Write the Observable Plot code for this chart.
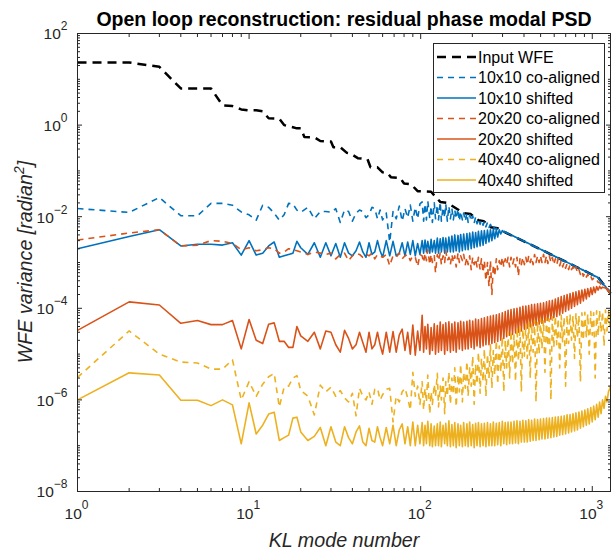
<!DOCTYPE html>
<html><head><meta charset="utf-8">
<script src="https://cdn.jsdelivr.net/npm/d3@7"></script>
<script src="https://cdn.jsdelivr.net/npm/@observablehq/plot@0.6"></script>
<style>
body{margin:0;background:#fff;}
#wrap{position:relative;width:613px;height:552px;font-family:"Liberation Sans",Arial,sans-serif;}
#legend{position:absolute;left:433px;top:43px;}
#ylab{position:absolute;left:0;top:0;}
</style></head><body><div id="wrap"></div>
<script>
// ---------- data ----------
const titleText = "Open loop reconstruction: residual phase modal PSD";
const xLabel = "KL mode number";
const yLabelMain = "WFE variance [radian";
const yLabelSup = "2";
const yLabelEnd = "]";
const xTicks = [1, 10, 100, 1000];
const xTickExp = ["0", "1", "2", "3"];
const yTicks = [1e-8, 1e-6, 1e-4, 1e-2, 1, 100];
const yTickExp = ["−8", "−6", "−4", "−2", "0", "2"];
const tickBase = "10";

const seriesNames = ["Input WFE", "10x10 co-aligned", "10x10 shifted", "20x20 co-aligned", "20x20 shifted", "40x40 co-aligned", "40x40 shifted"];
const seriesColors = ["#000000", "#0072BD", "#0072BD", "#D95319", "#D95319", "#EDB120", "#EDB120"];
const seriesDash = ["9,6", "6,5", null, "6,5", null, "6,5", null];
const seriesWidth = [2.5, 1.6, 1.6, 1.6, 1.6, 1.6, 1.6];

// Input WFE (black dashed)
const inputModes = [1,2,3,4,5,6,7,8,9,10, 11,12,13,14,15,16,17,18,19,20,
  21,24,26,30,31,34,37,39,43,49, 51,56,60,64,67,76,80,88,96,115,
  130,143,178,195,217,233,256,281,292,317, 400,500,600,700,800,900,1000,1082,1150,1218, 1277];
const inputWFE = [23.3,23.3,18.7,6.3,6.3,6.3,2.7,2.6,2.2,2.1, 2.1,2.0,1.41,1.4,1.38,1.0,0.95,0.9,0.85,0.85,
  0.55,0.54,0.45,0.44,0.33,0.33,0.25,0.24,0.19,0.18, 0.12,0.12,0.093,0.09,0.073,0.07,0.053,0.051,0.036,0.035,
  0.021,0.02,0.012,0.0115,0.0084,0.008,0.0059,0.0056,0.0051,0.0044, 0.0029,0.00193,0.00138,0.00105,0.00081,0.00066,0.00054,0.00047,0.00035,0.00027, 0.00021];

// sampled KL modes for residual curves
const modes = [
  1,2,3,4,5,6,7,8,9,10, 11,12,13,14,15,16,17,18,19,20,
  22,24,26,28,30,32,34,36,38,40, 42,44,46,48,50,52,54,56,58,60,
  63,66,69,72,75,78,81,84,87,90, 93,96,99,
  102,104,106,108,110,113,115,117,120,122,
  125,127,130,132,135,138,140,143,146,149,
  152,155,158,161,165,168,171,175,178,182,
  186,189,193,197,201,205,209,213,217,222,
  226,231,235,240,245,250,255,260,265,270,
  276,281,287,293,299,305,311,317,323,330,
  336,343,350,357,364,371,379,386,394,402,
  410,418,426,435,443,452,461,470,480,490,
  499,509,520,530,541,551,562,574,585,597,
  609,621,633,646,659,672,686,699,713,728,
  742,757,772,788,803,819,836,853,870,887,
  905,923,941,960,980,999,1019,1040,1060,1082,
  1103,1125,1148,1171,1194,1218,1242,1267,1277];

const coAligned10 = [
  0.0151,0.0124,0.0262,0.0105,0.0105,0.0195,0.0195,0.0178,0.0127,0.011,
  0.0084,0.0178,0.016,0.012,0.0084,0.011,0.0195,0.019,0.0139,0.0125,
  0.016,0.009,0.013,0.013,0.0125,0.015,0.0075,0.014,0.013,0.008,
  0.012,0.014,0.013,0.0095,0.011,0.016,0.015,0.009,0.014,0.0085,
  0.012,0.0028,0.013,0.009,0.017,0.008,0.015,0.0095,0.018,0.008,
  0.016,0.009,0.019,
  0.021,0.008,0.019,0.0085,0.022,0.009,0.017,0.0075,0.02,0.009,
  0.018,0.0085,0.021,0.008,0.016,0.0095,0.019,0.008,0.017,0.009,
  0.015,0.0085,0.014,0.009,0.015,0.008,0.013,0.0085,0.012,0.008,
  0.012,0.0075,0.011,0.008,0.0105,0.0072,0.01,0.007,0.009,0.0068,
  0.0085,0.0065,0.008,0.006,0.0075,0.0058,0.0068,0.0056,0.0062,0.0054,
  0.0056,0.0052,0.0051,0.0049,0.0048,0.0047,0.0046,0.0044,0.0042,0.0041,
  0.00401,0.00386,0.00372,0.00358,0.00346,0.00334,0.00321,0.0031,0.003,0.00289,
  0.00278,0.00269,0.0026,0.0025,0.00242,0.00233,0.00224,0.00217,0.00208,0.00201,
  0.00194,0.00187,0.0018,0.00174,0.00167,0.00162,0.00156,0.0015,0.00145,0.0014,
  0.00134,0.0013,0.00126,0.00121,0.00116,0.00112,0.00108,0.00105,0.00101,0.00097,
  0.00094,0.0009,0.00087,0.00084,0.00081,0.00078,0.00075,0.00073,0.0007,0.00068,
  0.00065,0.00063,0.00061,0.00058,0.00056,0.00054,0.00052,0.0005,0.00049,0.00047,
  0.00042,0.00038,0.00035,0.00032,0.0003,0.00027,0.00025,0.00023,0.00021];

const shifted10 = [
  0.002,0.0037,0.0052,0.0023,0.0025,0.0025,0.0024,0.0027,0.00145,0.003,
  0.00145,0.0016,0.0023,0.0028,0.0013,0.0014,0.0015,0.0016,0.0029,0.0021,
  0.0015,0.0027,0.0013,0.0027,0.0014,0.0026,0.0013,0.0027,0.0016,0.0014,
  0.0018,0.0028,0.0017,0.0013,0.0027,0.0015,0.0017,0.003,0.0018,0.0013,
  0.003,0.0014,0.0029,0.0014,0.0016,0.0027,0.0014,0.0028,0.0015,0.003,
  0.0014,0.0026,0.0015,
  0.003,0.0016,0.0031,0.0017,0.0029,0.0016,0.0032,0.0017,0.003,0.0016,
  0.0034,0.0016,0.0033,0.0017,0.0035,0.0016,0.0034,0.0017,0.0036,0.0017,
  0.0038,0.0017,0.004,0.0018,0.0039,0.0017,0.0041,0.0018,0.0042,0.0019,
  0.0043,0.0019,0.0044,0.002,0.0046,0.0021,0.0045,0.0022,0.0048,0.0023,
  0.0049,0.0024,0.005,0.0026,0.0051,0.0028,0.0052,0.003,0.0053,0.0033,
  0.0052,0.0036,0.0052,0.0042,0.005,0.0046,0.0047,0.0045,0.0043,0.0041,
  0.00401,0.00386,0.00372,0.00358,0.00346,0.00334,0.00321,0.0031,0.003,0.00289,
  0.00278,0.00269,0.0026,0.0025,0.00242,0.00233,0.00224,0.00217,0.00208,0.00201,
  0.00194,0.00187,0.0018,0.00174,0.00167,0.00162,0.00156,0.0015,0.00145,0.0014,
  0.00134,0.0013,0.00126,0.00121,0.00116,0.00112,0.00108,0.00105,0.00101,0.00097,
  0.00094,0.0009,0.00087,0.00084,0.00081,0.00078,0.00075,0.00073,0.0007,0.00068,
  0.00065,0.00063,0.00061,0.00058,0.00056,0.00054,0.00052,0.0005,0.00049,0.00047,
  0.00042,0.00038,0.00035,0.00032,0.0003,0.00027,0.00025,0.00023,0.00021];

const coAligned20 = [
  0.0031,0.0044,0.0052,0.0023,0.0024,0.003,0.0029,0.0026,0.0019,0.0021,
  0.0018,0.0019,0.0021,0.002,0.0016,0.0017,0.002,0.0019,0.0018,0.0017,
  0.0015,0.0017,0.0016,0.0015,0.0016,0.0012,0.0015,0.0016,0.0011,0.0014,
  0.0016,0.0015,0.0013,0.0015,0.0014,0.0016,0.0012,0.0015,0.0014,0.0013,
  0.0015,0.00085,0.0014,0.0013,0.0016,0.0012,0.0014,0.0015,0.0011,0.0014,
  0.0013,0.00082,0.0015,
  0.0014,0.001,0.0016,0.0011,0.0019,0.0009,0.0015,0.001,0.0014,0.0006,
  0.0015,0.0011,0.0016,0.0009,0.0014,0.001,0.0018,0.0011,0.0013,0.0009,
  0.0015,0.001,0.0014,0.0008,0.0016,0.001,0.0014,0.0011,0.0015,0.0009,
  0.0013,0.0009,0.0014,0.0007,0.0013,0.0009,0.0012,0.0008,0.0013,0.0007,
  0.0012,0.0006,0.0011,0.0004,0.001,0.0003,0.0011,0.0002,0.0009,0.0005,
  0.0012,0.0007,0.0011,0.0008,0.0013,0.0008,0.0012,0.0009,0.0013,0.0008,
  0.0013,0.0009,0.0012,0.0008,0.0013,0.0005,0.0012,0.0009,0.0013,0.0009,
  0.0013,0.0009,0.0014,0.001,0.0013,0.0009,0.0015,0.001,0.0014,0.001,
  0.0014,0.001,0.0015,0.001,0.0014,0.00095,0.0014,0.001,0.0013,0.0009,
  0.0012,0.0009,0.0012,0.00085,0.0011,0.0008,0.001,0.00075,0.00095,0.0007,
  0.0009,0.0007,0.0008,0.00065,0.0008,0.0006,0.0007,0.00055,0.00065,0.0005,
  0.0006,0.00048,0.00055,0.00045,0.0005,0.00042,0.00045,0.0004,0.00042,0.00037,
  0.00036,0.00033,0.00031,0.0003,0.00028,0.00026,0.00024,0.00022,0.00021];

const shifted20 = [
  3.3e-5,1.38e-4,1.18e-4,4.7e-5,5.4e-5,4.4e-5,4.4e-5,5.4e-5,1.3e-5,5.7e-5,
  2.0e-5,1.7e-5,4.5e-5,4.8e-5,1.9e-5,1.9e-5,1.4e-5,1.4e-5,4.0e-5,2.5e-5,
  1.9e-5,3.0e-5,1.3e-5,3.2e-5,3.0e-5,1.6e-5,1.1e-5,3.3e-5,2.2e-5,1.3e-5,
  1.6e-5,3.0e-5,1.8e-5,1.1e-5,3.0e-5,1.3e-5,1.6e-5,3.0e-5,1.6e-5,1.0e-5,
  3.0e-5,1.1e-5,3.1e-5,1.1e-5,2.6e-5,3.5e-5,1.2e-5,3.0e-5,1.0e-5,4.3e-5,
  9.5e-6,3.2e-5,1.2e-5,
  7.0e-5,1.1e-5,4.0e-5,1.3e-5,4.5e-5,1.0e-5,3.8e-5,1.2e-5,4.6e-5,1.0e-5,
  4.2e-5,1.1e-5,5.0e-5,1.2e-5,4.4e-5,1.0e-5,4.8e-5,1.2e-5,5.1e-5,1.1e-5,
  4.6e-5,1.2e-5,5.0e-5,1.1e-5,4.8e-5,1.3e-5,5.2e-5,1.2e-5,5.0e-5,1.3e-5,
  5.2e-5,1.3e-5,5.5e-5,1.4e-5,5.3e-5,1.3e-5,5.8e-5,1.5e-5,5.6e-5,1.4e-5,
  6.0e-5,1.5e-5,6.2e-5,1.6e-5,6.5e-5,1.6e-5,6.8e-5,1.7e-5,7.0e-5,1.8e-5,
  7.2e-5,1.9e-5,7.6e-5,2.0e-5,8.0e-5,2.2e-5,8.5e-5,2.4e-5,9.0e-5,2.6e-5,
  9.4e-5,2.7e-5,9.8e-5,2.9e-5,1.0e-4,3.0e-5,1.05e-4,3.2e-5,1.1e-4,3.5e-5,
  1.12e-4,3.7e-5,1.15e-4,3.9e-5,1.2e-4,4.1e-5,1.22e-4,4.3e-5,1.25e-4,4.5e-5,
  1.28e-4,4.7e-5,1.32e-4,5.0e-5,1.38e-4,5.4e-5,1.45e-4,5.8e-5,1.5e-4,6.2e-5,
  1.6e-4,6.6e-5,1.7e-4,7.2e-5,1.8e-4,7.8e-5,1.9e-4,8.5e-5,2.0e-4,9.2e-5,
  2.1e-4,1.0e-4,2.2e-4,1.1e-4,2.3e-4,1.2e-4,2.4e-4,1.3e-4,2.5e-4,1.45e-4,
  2.6e-4,1.6e-4,2.7e-4,1.8e-4,2.8e-4,2.0e-4,2.9e-4,2.2e-4,3.0e-4,2.5e-4,
  3.0e-4,2.7e-4,2.9e-4,2.8e-4,2.8e-4,2.6e-4,2.4e-4,2.2e-4,2.1e-4];

const coAligned40 = [
  3.1e-6,3.2e-5,1.0e-5,6.7e-6,6.4e-6,4.7e-6,4.7e-6,7.5e-6,1.0e-6,2.5e-6,
  1.2e-6,2.2e-6,3.2e-6,3.8e-6,7.0e-7,1.9e-6,2.0e-6,3.0e-6,3.4e-6,1.6e-6,
  1.2e-6,4.7e-7,2.1e-6,1.5e-6,1.9e-6,1.2e-6,1.6e-6,1.1e-6,9.0e-7,1.4e-6,
  4.5e-7,1.8e-6,1.2e-6,1.0e-6,1.5e-6,8.0e-7,1.7e-6,1.8e-6,1.0e-6,1.3e-6,
  1.7e-6,1.8e-6,3.3e-7,1.2e-6,9.0e-7,1.5e-6,1.8e-6,1.1e-6,6.0e-7,4.0e-6,
  1.2e-6,2.0e-6,8.0e-7,
  2.5e-6,6.0e-7,1.8e-6,9.0e-7,3.5e-6,5.0e-7,1.5e-6,8.0e-7,2.2e-6,1.2e-6,
  3.8e-6,7.0e-7,2.0e-6,1.0e-6,3.0e-6,5.0e-7,2.5e-6,1.2e-6,4.0e-6,8.0e-7,
  3.0e-6,1.3e-6,5.0e-6,7.0e-7,3.5e-6,1.5e-6,6.0e-6,9.0e-7,4.0e-6,1.8e-6,
  7.0e-6,1.2e-6,5.0e-6,2.0e-6,9.0e-6,8.0e-7,6.0e-6,2.2e-6,1.1e-5,1.4e-6,
  8.0e-6,2.5e-6,1.3e-5,1.2e-6,1.0e-5,3.0e-6,1.6e-5,1.8e-6,1.2e-5,3.5e-6,
  2.0e-5,2.2e-6,1.5e-5,4.0e-6,2.4e-5,1.5e-6,2.0e-5,5.0e-6,3.0e-5,3.0e-6,
  3.2e-5,6.0e-6,2.6e-5,2.5e-6,3.8e-5,7.0e-6,4.2e-5,1.5e-6,3.5e-5,9.0e-6,
  4.5e-5,8.0e-6,5.0e-5,3.0e-6,4.8e-5,1.1e-5,5.5e-5,9.0e-7,5.2e-5,1.0e-5,
  6.0e-5,1.3e-5,5.5e-5,4.0e-6,6.2e-5,1.5e-5,5.8e-5,1.0e-6,6.5e-5,1.4e-5,
  6.8e-5,1.6e-5,6.0e-5,5.0e-6,7.0e-5,1.8e-5,6.5e-5,2.0e-6,7.2e-5,1.7e-5,
  7.5e-5,2.0e-5,6.8e-5,8.0e-6,7.8e-5,2.2e-5,7.0e-5,2.5e-6,8.0e-5,2.0e-5,
  8.2e-5,2.4e-5,7.5e-5,1.0e-5,8.5e-5,2.6e-5,8.0e-5,3.0e-6,8.8e-5,2.5e-5,
  9.0e-5,3.0e-5,8.5e-5,1.5e-5,9.2e-5,3.2e-5,8.8e-5,4.0e-5,9.0e-5];

const shifted40 = [
  1.0e-6,3.9e-6,3.5e-6,9.8e-7,9.8e-7,7.5e-7,1.0e-6,7.8e-7,1.1e-7,8.6e-7,
  1.8e-7,2.8e-7,4.9e-7,5.4e-7,1.3e-7,1.5e-7,1.7e-7,4.0e-7,4.2e-7,2.0e-7,
  1.3e-7,1.6e-7,2.5e-7,1.0e-7,2.6e-7,1.2e-7,1.0e-7,2.6e-7,1.5e-7,1.1e-7,
  2.0e-7,2.7e-7,1.2e-7,1.0e-7,2.4e-7,1.3e-7,1.2e-7,2.6e-7,1.5e-7,1.0e-7,
  2.5e-7,1.1e-7,2.8e-7,1.0e-7,2.2e-7,3.0e-7,1.1e-7,2.6e-7,1.0e-7,3.3e-7,
  1.0e-7,2.8e-7,1.1e-7,
  3.2e-7,1.0e-7,2.8e-7,1.1e-7,3.4e-7,1.0e-7,3.0e-7,9.5e-8,2.7e-7,1.0e-7,
  3.0e-7,1.0e-7,3.3e-7,9.5e-8,2.8e-7,1.1e-7,3.1e-7,1.0e-7,3.5e-7,9.5e-8,
  2.9e-7,1.0e-7,3.2e-7,9.0e-8,3.0e-7,1.0e-7,2.8e-7,9.5e-8,3.2e-7,1.0e-7,
  3.0e-7,9.5e-8,3.3e-7,1.0e-7,2.9e-7,9.0e-8,3.1e-7,1.0e-7,3.2e-7,9.5e-8,
  3.0e-7,1.0e-7,3.1e-7,9.5e-8,3.2e-7,1.0e-7,3.0e-7,1.0e-7,3.3e-7,1.0e-7,
  3.1e-7,1.05e-7,3.2e-7,1.0e-7,3.4e-7,1.1e-7,3.2e-7,1.05e-7,3.3e-7,1.1e-7,
  3.3e-7,1.1e-7,3.4e-7,1.15e-7,3.5e-7,1.1e-7,3.4e-7,1.2e-7,3.6e-7,1.2e-7,
  3.5e-7,1.2e-7,3.7e-7,1.25e-7,3.6e-7,1.3e-7,3.8e-7,1.3e-7,3.7e-7,1.35e-7,
  3.8e-7,1.4e-7,3.9e-7,1.4e-7,4.0e-7,1.45e-7,4.0e-7,1.5e-7,4.1e-7,1.55e-7,
  4.2e-7,1.6e-7,4.3e-7,1.7e-7,4.4e-7,1.75e-7,4.5e-7,1.8e-7,4.7e-7,1.9e-7,
  4.8e-7,2.0e-7,5.0e-7,2.1e-7,5.2e-7,2.2e-7,5.4e-7,2.4e-7,5.7e-7,2.6e-7,
  6.0e-7,2.8e-7,6.4e-7,3.0e-7,6.8e-7,3.3e-7,7.3e-7,3.7e-7,8.0e-7,4.2e-7,
  9.0e-7,5.0e-7,1.0e-6,6.5e-7,1.2e-6,9.0e-7,1.5e-6,1.8e-6,2.1e-6];

// ---------- build ----------
function rows(name, xs, ys) {
  const n = Math.min(xs.length, ys.length);
  const out = [];
  for (let i = 0; i < n; i++) out.push({series: name, mode: xs[i], value: ys[i]});
  return out;
}
const seriesData = [
  rows(seriesNames[0], inputModes, inputWFE),
  rows(seriesNames[1], modes, coAligned10),
  rows(seriesNames[2], modes, shifted10),
  rows(seriesNames[3], modes, coAligned20),
  rows(seriesNames[4], modes, shifted20),
  rows(seriesNames[5], modes, coAligned40),
  rows(seriesNames[6], modes, shifted40)
];

const minorX = [];
for (const d of [1, 10, 100, 1000]) for (let k = 2; k <= 9; k++) if (d * k <= 1277) minorX.push(d * k);
const minorY = [];
for (let e = -8; e <= 1; e++) {
  if (e % 2 !== 0) minorY.push(Math.pow(10, e));
  for (let k = 2; k <= 9; k++) minorY.push(k * Math.pow(10, e));
}
const axisColor = "#262626";
const FONT = "'Liberation Sans', Arial, sans-serif";
const baseSize = 15.5, expSize = 12;
const ctx = document.createElement("canvas").getContext("2d");
function textWidth(s, size) { ctx.font = `${size}px ${FONT}`; return ctx.measureText(s).width; }
const blank = () => "";

const marks = [];
seriesData.forEach((data, i) => {
  marks.push(Plot.line(data, {
    x: "mode", y: "value", stroke: seriesColors[i], strokeWidth: seriesWidth[i],
    strokeDasharray: seriesDash[i] || undefined, strokeLinejoin: "round", strokeLinecap: "butt"
  }));
});
marks.push(
  Plot.frame({stroke: axisColor, strokeWidth: 1}),
  Plot.axisX(xTicks, {anchor: "bottom", tickSize: -5, tickFormat: blank, label: null}),
  Plot.axisX(minorX, {anchor: "bottom", tickSize: -3, tickFormat: blank, label: null}),
  Plot.axisX(xTicks, {anchor: "top", tickSize: -5, tickFormat: blank, label: null}),
  Plot.axisX(minorX, {anchor: "top", tickSize: -3, tickFormat: blank, label: null}),
  Plot.axisY(yTicks, {anchor: "left", tickSize: -5, tickFormat: blank, label: null}),
  Plot.axisY(minorY, {anchor: "left", tickSize: -3, tickFormat: blank, label: null}),
  Plot.axisY(yTicks, {anchor: "right", tickSize: -5, tickFormat: blank, label: null}),
  Plot.axisY(minorY, {anchor: "right", tickSize: -3, tickFormat: blank, label: null})
);
// tick labels: "10" with superscript exponent
const baseW = textWidth(tickBase, baseSize);
xTicks.forEach((t, i) => {
  const ew = textWidth(xTickExp[i], expSize);
  const total = baseW + ew;
  marks.push(
    Plot.text([t], {x: d => d, frameAnchor: "bottom", text: () => tickBase, textAnchor: "start",
      dx: -total / 2 - 1, dy: 16, lineAnchor: "top", fontSize: baseSize, fill: axisColor}),
    Plot.text([t], {x: d => d, frameAnchor: "bottom", text: () => xTickExp[i], textAnchor: "start",
      dx: -total / 2 - 1 + baseW, dy: 9, lineAnchor: "top", fontSize: expSize, fill: axisColor})
  );
});
yTicks.forEach((t, i) => {
  const ew = textWidth(yTickExp[i], expSize);
  marks.push(
    Plot.text([t], {y: d => d, frameAnchor: "left", text: () => tickBase, textAnchor: "end",
      dx: -10 - ew, dy: 1, lineAnchor: "middle", fontSize: baseSize, fill: axisColor}),
    Plot.text([t], {y: d => d, frameAnchor: "left", text: () => yTickExp[i], textAnchor: "end",
      dx: -10, dy: -7, lineAnchor: "middle", fontSize: expSize, fill: axisColor})
  );
});
marks.push(
  Plot.text([titleText], {frameAnchor: "top", dy: -8, lineAnchor: "bottom", fontWeight: "bold", fontSize: 19.5, fill: "#000"}),
  Plot.text([xLabel], {frameAnchor: "bottom", dy: 55, lineAnchor: "bottom", fontStyle: "italic", fontSize: 19.7, fill: axisColor})
);

const chart = Plot.plot({
  width: 613, height: 552,
  marginTop: 33, marginBottom: 61, marginLeft: 77, marginRight: 3,
  x: {type: "log", domain: [1, 1277], axis: null},
  y: {type: "log", domain: [1e-8, 100], axis: null},
  style: {fontFamily: FONT, fontSize: "15px", color: axisColor, background: "#fff"},
  marks
});
const wrap = document.getElementById("wrap");
wrap.appendChild(chart);

const ns = "http://www.w3.org/2000/svg";
// ---------- y label with superscript ----------
const ys = document.createElementNS(ns, "svg");
ys.setAttribute("id", "ylab");
ys.setAttribute("width", 60); ys.setAttribute("height", 552);
const yt = document.createElementNS(ns, "text");
yt.setAttribute("transform", "translate(32,262) rotate(-90)");
yt.setAttribute("text-anchor", "middle");
yt.setAttribute("font-family", FONT);
yt.setAttribute("font-style", "italic");
yt.setAttribute("font-size", 19.7);
yt.setAttribute("fill", axisColor);
const t1 = document.createElementNS(ns, "tspan"); t1.textContent = yLabelMain;
const t2 = document.createElementNS(ns, "tspan"); t2.textContent = yLabelSup;
t2.setAttribute("dy", -8); t2.setAttribute("font-size", 14);
const t3 = document.createElementNS(ns, "tspan"); t3.textContent = yLabelEnd;
t3.setAttribute("dy", 8);
yt.appendChild(t1); yt.appendChild(t2); yt.appendChild(t3);
ys.appendChild(yt);
wrap.appendChild(ys);

// ---------- legend ----------
const lg = document.createElementNS(ns, "svg");
lg.setAttribute("id", "legend");
lg.setAttribute("width", 172); lg.setAttribute("height", 150);
const box = document.createElementNS(ns, "rect");
box.setAttribute("x", 0.5); box.setAttribute("y", 0.5); box.setAttribute("width", 171); box.setAttribute("height", 149);
box.setAttribute("fill", "#fff"); box.setAttribute("stroke", axisColor); box.setAttribute("stroke-width", 1);
lg.appendChild(box);
seriesNames.forEach((name, i) => {
  const cy = 14 + i * 20.5;
  const ln = document.createElementNS(ns, "line");
  ln.setAttribute("x1", 4); ln.setAttribute("x2", 43); ln.setAttribute("y1", cy); ln.setAttribute("y2", cy);
  ln.setAttribute("stroke", seriesColors[i]); ln.setAttribute("stroke-width", seriesWidth[i]);
  if (seriesDash[i]) ln.setAttribute("stroke-dasharray", seriesDash[i]);
  lg.appendChild(ln);
  const tx = document.createElementNS(ns, "text");
  tx.setAttribute("x", 45); tx.setAttribute("y", cy + 5.5);
  tx.setAttribute("font-size", 16); tx.setAttribute("fill", "#000");
  tx.setAttribute("font-family", FONT);
  tx.textContent = name;
  lg.appendChild(tx);
});
wrap.appendChild(lg);
</script></body></html>
